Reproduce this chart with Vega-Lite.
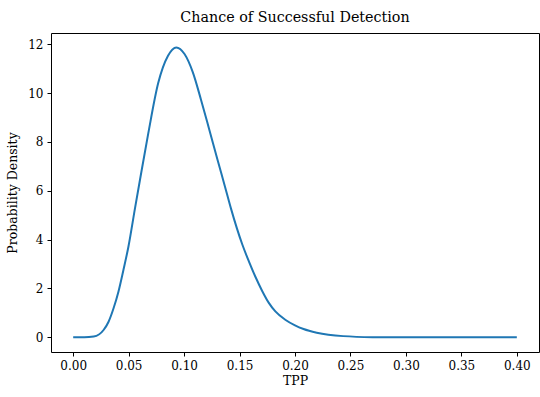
{
  "$schema": "https://vega.github.io/schema/vega-lite/v6.json",
  "width": 488,
  "height": 319,
  "autosize": {"type": "none"},
  "padding": {"left": 51, "top": 33, "right": 1, "bottom": 45},
  "background": "white",
  "title": {"text": "Chance of Successful Detection", "font": "DejaVu Serif", "fontSize": 14.3, "fontWeight": "normal", "color": "#000", "offset": 8},
  "config": {
    "view": {"stroke": "#000", "strokeWidth": 1},
    "axis": {
      "grid": false, "domain": false, "tickColor": "#000", "tickSize": 4, "tickWidth": 1,
      "labelFont": "DejaVu Serif", "labelFontSize": 12, "labelColor": "#000",
      "titleFont": "DejaVu Serif", "titleFontSize": 12.5, "titleFontWeight": "normal", "titleColor": "#000"
    }
  },
  "data": {"values": [
    {"x": 0.0, "y": 0},
    {"x": 0.01, "y": 0},
    {"x": 0.0185, "y": 0.03},
    {"x": 0.0274, "y": 0.3},
    {"x": 0.0319, "y": 0.64},
    {"x": 0.0364, "y": 1.19},
    {"x": 0.0408, "y": 1.87},
    {"x": 0.0453, "y": 2.76},
    {"x": 0.0498, "y": 3.71},
    {"x": 0.0558, "y": 5.3},
    {"x": 0.0602, "y": 6.44},
    {"x": 0.0677, "y": 8.35},
    {"x": 0.0766, "y": 10.4},
    {"x": 0.0855, "y": 11.53},
    {"x": 0.093, "y": 11.87},
    {"x": 0.1004, "y": 11.6},
    {"x": 0.1079, "y": 10.85},
    {"x": 0.1153, "y": 9.72},
    {"x": 0.1228, "y": 8.49},
    {"x": 0.1302, "y": 7.26},
    {"x": 0.1367, "y": 6.2},
    {"x": 0.1421, "y": 5.3},
    {"x": 0.1525, "y": 3.8},
    {"x": 0.1585, "y": 3.1},
    {"x": 0.1644, "y": 2.47},
    {"x": 0.1704, "y": 1.9},
    {"x": 0.1764, "y": 1.41},
    {"x": 0.1823, "y": 1.06},
    {"x": 0.1912, "y": 0.72},
    {"x": 0.2, "y": 0.49},
    {"x": 0.2077, "y": 0.34},
    {"x": 0.2196, "y": 0.19},
    {"x": 0.2434, "y": 0.05},
    {"x": 0.27, "y": 0.008},
    {"x": 0.3, "y": 0},
    {"x": 0.35, "y": 0},
    {"x": 0.4, "y": 0}
  ]},
  "mark": {"type": "line", "color": "#1f77b4", "strokeWidth": 2, "interpolate": "monotone", "clip": true},
  "encoding": {
    "x": {"field": "x", "type": "quantitative", "title": "TPP",
      "scale": {"domain": [-0.02, 0.42], "nice": false, "zero": false},
      "axis": {"values": [0, 0.05, 0.1, 0.15, 0.2, 0.25, 0.3, 0.35, 0.4], "format": ".2f", "labelPadding": 4, "titlePadding": 3}},
    "y": {"field": "y", "type": "quantitative", "title": "Probability Density",
      "scale": {"domain": [-0.6, 12.46], "nice": false, "zero": false},
      "axis": {"values": [0, 2, 4, 6, 8, 10, 12], "format": "d", "labelPadding": 4, "titlePadding": 8}}
  }
}
